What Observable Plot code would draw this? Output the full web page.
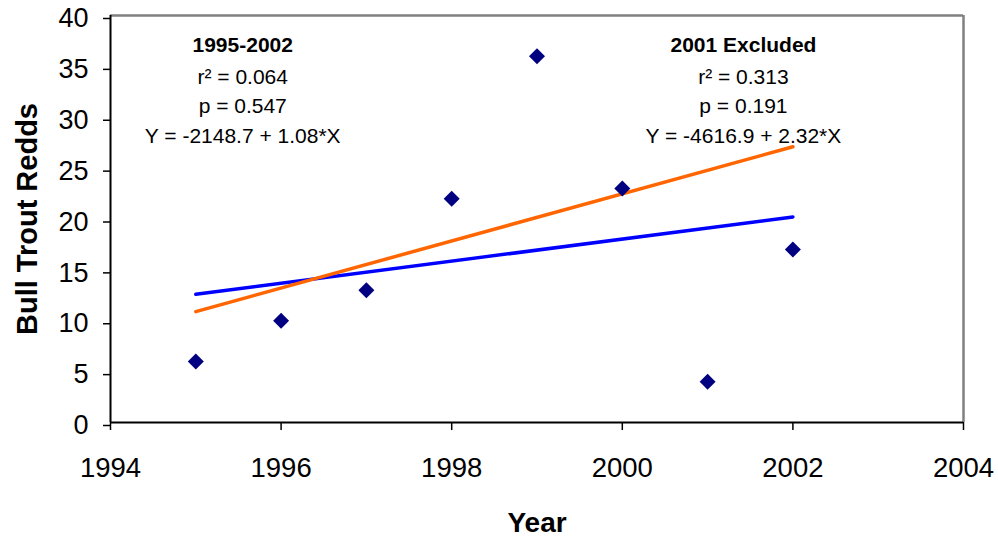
<!DOCTYPE html>
<html><head><meta charset="utf-8">
<script src="https://cdn.jsdelivr.net/npm/d3@7"></script>
<script src="https://cdn.jsdelivr.net/npm/@observablehq/plot@0.6"></script>
<style>body{margin:0;background:#fff} svg{display:block}</style>
</head><body><div id="chart"></div>
<script>
const years = [1995, 1996, 1997, 1998, 1999, 2000, 2001, 2002];
const redds = [6, 10, 13, 22, 36, 23, 4, 17];
const fitYears = [1995, 2002];
const fitAll = [12.6, 20.2];
const fitExcl = [10.9, 27.1];
const xTicks = [1994, 1996, 1998, 2000, 2002, 2004];
const yTicks = [0, 5, 10, 15, 20, 25, 30, 35, 40];
const annoTitles = ["1995-2002", "2001 Excluded"];
const annoX = [1995.55, 2001.42];
const annoR2 = ["r² = 0.064", "r² = 0.313"];
const annoP = ["p = 0.547", "p = 0.191"];
const annoEq = ["Y = -2148.7 + 1.08*X", "Y = -4616.9 + 2.32*X"];
const annoLineY = [37.1, 33.9, 31.1, 28.1];

const points = years.map((x, i) => ({x, y: redds[i]}));
const lineAll = fitYears.map((x, i) => ({x, y: fitAll[i]}));
const lineExcl = fitYears.map((x, i) => ({x, y: fitExcl[i]}));
const anno = (arr, row) => arr.map((t, i) => ({x: annoX[i], y: annoLineY[row], t}));

const font = "'Liberation Sans', Arial, sans-serif";
const plot = Plot.plot({
  width: 998,
  height: 539,
  marginLeft: 110,
  marginRight: 35,
  marginTop: 15,
  marginBottom: 117,
  style: {fontFamily: font, fontSize: "27px", color: "#000", background: "#fff", display: "block"},
  x: {domain: [1994, 2004]},
  y: {domain: [0, 40]},
  marks: [
    Plot.ruleY([40], {stroke: "#808080", strokeWidth: 2.5}),
    Plot.ruleX([2004], {stroke: "#808080", strokeWidth: 2.5}),
    Plot.axisY({ticks: yTicks, tickSize: 7, tickPadding: 15, label: null, fontSize: 27, stroke: "#000", strokeWidth: 1.5, dy: 3}),
    Plot.axisX({ticks: xTicks, tickSize: 8, tickPadding: 27, label: null, fontSize: 27.5, tickFormat: d => String(d), stroke: "#000", strokeWidth: 1.5}),
    Plot.ruleX([1994], {stroke: "#000", strokeWidth: 2}),
    Plot.ruleY([0], {stroke: "#000", strokeWidth: 2}),
    Plot.line(lineAll, {x: "x", y: "y", stroke: "#0000ff", strokeWidth: 3.5}),
    Plot.line(lineExcl, {x: "x", y: "y", stroke: "#ff6600", strokeWidth: 3.5}),
    Plot.dot(points, {x: "x", y: "y", symbol: "diamond2", r: 7.2, fill: "#000080", stroke: "none"}),
    Plot.text(anno(annoTitles, 0), {x: "x", y: "y", text: "t", fontSize: 21, fontWeight: "bold", fill: "#000", lineAnchor: "middle"}),
    Plot.text(anno(annoR2, 1), {x: "x", y: "y", text: "t", fontSize: 21, fill: "#000", lineAnchor: "middle"}),
    Plot.text(anno(annoP, 2), {x: "x", y: "y", text: "t", fontSize: 21, fill: "#000", lineAnchor: "middle"}),
    Plot.text(anno(annoEq, 3), {x: "x", y: "y", text: "t", fontSize: 21, fill: "#000", lineAnchor: "middle"}),
    Plot.text(["Bull Trout Redds"], {frameAnchor: "left", textAnchor: "middle", dx: -83, rotate: -90, fontSize: 29, fontWeight: "bold", fill: "#000", lineAnchor: "middle"}),
    Plot.text(["Year"], {frameAnchor: "bottom", textAnchor: "middle", dy: 101, fontSize: 28, fontWeight: "bold", fill: "#000", lineAnchor: "middle"})
  ]
});
document.getElementById("chart").appendChild(plot);
</script>
</body></html>
